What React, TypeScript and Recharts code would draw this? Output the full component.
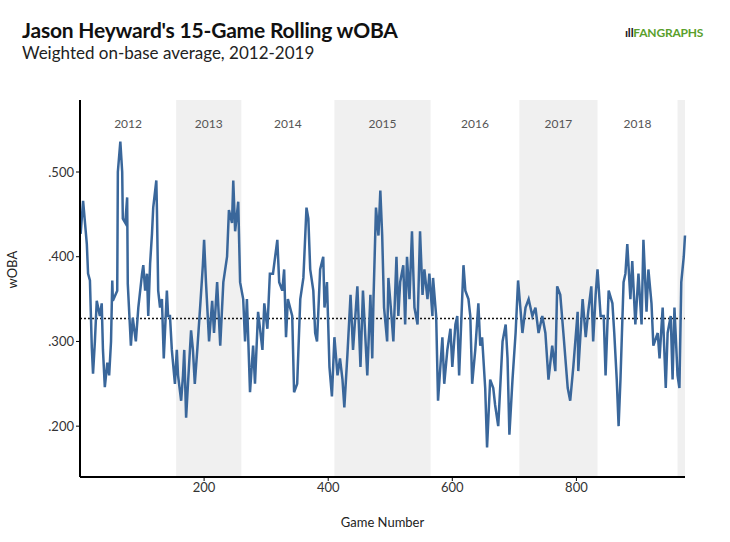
import React from "react";
import {
  LineChart,
  Line,
  XAxis,
  YAxis,
  ReferenceArea,
  ReferenceLine,
} from "recharts";

// game number and rolling wOBA
const games = [
  1, 5, 11, 13, 16, 19, 21, 24, 27, 32, 35, 37, 40, 44, 47, 50, 52, 53, 60, 61, 65, 68, 69, 73, 76, 77, 81, 82, 85, 90,
  94, 100, 102, 105, 108, 110, 113, 116, 118, 123, 124, 126, 129, 132, 135, 140, 142, 145, 148, 153, 156, 158, 163, 166,
  168, 171, 174, 179, 182, 185, 189, 194, 198, 200, 203, 208, 213, 216, 221, 226, 231, 237, 240, 245, 247, 250, 255, 258,
  263, 266, 269, 274, 279, 282, 287, 294, 297, 302, 306, 311, 318, 321, 326, 329, 332, 335, 342, 345, 350, 355, 360, 365,
  368, 371, 376, 379, 382, 387, 392, 394, 398, 402, 406, 410, 415, 419, 423, 426, 431, 436, 440, 447, 452, 456, 463, 468,
  471, 473, 477, 481, 484, 487, 490, 495, 497, 502, 505, 510, 513, 516, 521, 524, 527, 531, 535, 539, 544, 548, 552, 555,
  560, 563, 568, 569, 574, 577, 584, 587, 592, 597, 600, 605, 608, 611, 618, 621, 626, 629, 632, 637, 642, 645, 648, 653,
  656, 661, 666, 669, 674, 681, 686, 689, 692, 697, 702, 706, 713, 718, 723, 729, 734, 739, 745, 750, 755, 761, 766, 769,
  774, 779, 786, 790, 795, 802, 803, 810, 815, 819, 824, 827, 831, 834, 839, 844, 847, 852, 858, 861, 865, 868, 871, 876,
  879, 882, 887, 890, 895, 900, 905, 908, 913, 916, 921, 924, 931, 934, 939, 944, 947, 952, 955, 958, 963, 966, 969, 973,
  975,
];
const woba = [
  0.427, 0.466, 0.415, 0.38, 0.372, 0.293, 0.262, 0.3, 0.348, 0.33, 0.345, 0.29, 0.246, 0.275, 0.26, 0.3, 0.372, 0.348,
  0.36, 0.5, 0.536, 0.5, 0.445, 0.44, 0.47, 0.368, 0.31, 0.295, 0.328, 0.3, 0.34, 0.38, 0.39, 0.36, 0.38, 0.33, 0.392,
  0.427, 0.458, 0.49, 0.455, 0.36, 0.34, 0.35, 0.28, 0.36, 0.33, 0.33, 0.29, 0.25, 0.29, 0.26, 0.23, 0.26, 0.29, 0.21,
  0.25, 0.313, 0.29, 0.25, 0.29, 0.345, 0.39, 0.42, 0.37, 0.3, 0.348, 0.31, 0.37, 0.295, 0.37, 0.4, 0.455, 0.44, 0.49,
  0.43, 0.465, 0.37, 0.35, 0.3, 0.35, 0.24, 0.295, 0.25, 0.335, 0.29, 0.345, 0.315, 0.38, 0.38, 0.42, 0.37, 0.36, 0.385,
  0.305, 0.35, 0.33, 0.24, 0.25, 0.35, 0.375, 0.458, 0.445, 0.385, 0.36, 0.31, 0.3, 0.385, 0.4, 0.34, 0.37, 0.27, 0.235,
  0.305, 0.26, 0.28, 0.255, 0.222, 0.285, 0.355, 0.29, 0.365, 0.27, 0.36, 0.26, 0.355, 0.28, 0.35, 0.458, 0.425, 0.478,
  0.425, 0.34, 0.3, 0.375, 0.33, 0.3, 0.4, 0.33, 0.37, 0.39, 0.32, 0.4, 0.35, 0.43, 0.34, 0.32, 0.43, 0.355, 0.385, 0.35,
  0.38, 0.33, 0.375, 0.33, 0.23, 0.305, 0.25, 0.29, 0.315, 0.27, 0.32, 0.33, 0.26, 0.39, 0.36, 0.35, 0.33, 0.25, 0.29,
  0.345, 0.295, 0.305, 0.245, 0.175, 0.255, 0.245, 0.225, 0.2, 0.3, 0.32, 0.28, 0.19, 0.255, 0.31, 0.372, 0.31, 0.34,
  0.35, 0.33, 0.34, 0.31, 0.33, 0.31, 0.255, 0.295, 0.265, 0.365, 0.355, 0.31, 0.245, 0.23, 0.27, 0.335, 0.265, 0.35,
  0.305, 0.335, 0.365, 0.3, 0.355, 0.385, 0.33, 0.33, 0.26, 0.36, 0.345, 0.31, 0.255, 0.2, 0.255, 0.37, 0.38, 0.415,
  0.35, 0.395, 0.32, 0.38, 0.32, 0.42, 0.335, 0.385, 0.345, 0.295, 0.31, 0.28, 0.34, 0.245, 0.31, 0.33, 0.255, 0.34,
  0.26, 0.245, 0.37, 0.4, 0.425, 0.428,
];

const seasons = ["2012", "2013", "2014", "2015", "2016", "2017", "2018", "2019"];
const seasonStart = [0, 155, 260, 410, 565, 708, 834, 963];
const seasonEnd = [155, 260, 410, 565, 708, 834, 963, 975];

const leagueAvg = 0.327;
const xTicks = [200, 400, 600, 800];
const yTicks = [0.2, 0.3, 0.4, 0.5];

const data = games.map((g, i) => ({ game: g, woba: woba[i] }));

const FONT = "Lato, 'Open Sans', sans-serif";

export default function App() {
  return (
    <div style={{ position: "absolute", left: 0, top: 0, width: 730, height: 542, background: "#fff", fontFamily: FONT }}>
      <div style={{ position: "absolute", left: 22, top: 17, fontSize: 21, fontWeight: 700, color: "#111", letterSpacing: -0.2 }}>
        Jason Heyward's 15-Game Rolling wOBA
      </div>
      <div style={{ position: "absolute", left: 22, top: 42, fontSize: 17, color: "#222" }}>
        Weighted on-base average, 2012-2019
      </div>
      <div style={{ position: "absolute", left: 625, top: 25, fontSize: 12, fontWeight: 700, color: "#5aa02c", letterSpacing: -0.2 }}>
        <span style={{ color: "#222" }}>ıll</span>FANGRAPHS
      </div>
      <LineChart width={730} height={542} data={data} margin={{ top: 100, right: 45, bottom: 35, left: 20 }}>
        {seasons.map((s, i) => (
          <ReferenceArea
            key={s}
            x1={seasonStart[i]}
            x2={seasonEnd[i]}
            fill={i % 2 === 1 ? "#f0f0f0" : "none"}
            fillOpacity={1}
            stroke="none"
            ifOverflow="hidden"
            label={i < 7 ? { value: s, position: "insideTop", offset: 19, fill: "#555", fontSize: 12, fontFamily: FONT } : undefined}
          />
        ))}
        <XAxis
          dataKey="game"
          type="number"
          domain={[0, 975]}
          ticks={xTicks}
          height={30}
          axisLine={{ stroke: "#000", strokeWidth: 2 }}
          tickLine={{ stroke: "#000" }}
          tickSize={4}
          tick={{ fill: "#333", fontSize: 13, fontFamily: FONT }}
          label={{ value: "Game Number", position: "insideBottom", offset: -20, fill: "#222", fontSize: 13, fontFamily: FONT }}
        />
        <YAxis
          type="number"
          domain={[0.14, 0.585]}
          ticks={yTicks}
          width={60}
          axisLine={{ stroke: "#000", strokeWidth: 2 }}
          tickLine={{ stroke: "#000" }}
          tickSize={4}
          tickFormatter={(v: number) => v.toFixed(3).slice(1)}
          tick={{ fill: "#333", fontSize: 13, fontFamily: FONT }}
          label={{ value: "wOBA", angle: -90, position: "insideLeft", offset: 0, dx: -8, fill: "#222", fontSize: 13, fontFamily: FONT }}
        />
        <ReferenceLine y={leagueAvg} stroke="#111" strokeWidth={1.5} strokeDasharray="2 2" />
        <Line
          dataKey="woba"
          type="linear"
          stroke="#3a679b"
          strokeWidth={2.5}
          dot={false}
          isAnimationActive={false}
        />
      </LineChart>
    </div>
  );
}
